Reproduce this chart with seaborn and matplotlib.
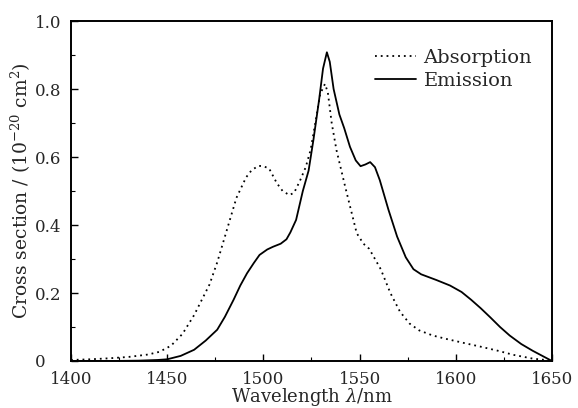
import numpy as np
import pandas as pd
import seaborn as sns
import matplotlib
matplotlib.use("Agg")
import matplotlib.pyplot as plt
from matplotlib.ticker import MultipleLocator, FuncFormatter

#Data
abs_wl = [1400, 1410, 1420, 1430, 1440, 1446, 1452, 1458, 1464, 1468, 1472, 1476,
          1481, 1486, 1491, 1494, 1497.5, 1500, 1503, 1507, 1510, 1513.5, 1516, 1519,
          1522, 1524.5, 1527, 1529.5, 1532, 1533.5, 1535.5, 1538, 1542.5, 1548.5, 1552,
          1555, 1558, 1561, 1566, 1571, 1576, 1581, 1588, 1595, 1605, 1613, 1622, 1630,
          1640, 1650]
abs_cs = [0.003, 0.005, 0.008, 0.012, 0.019, 0.027, 0.045, 0.080, 0.135, 0.180, 0.225, 0.290,
          0.385, 0.480, 0.540, 0.562, 0.574, 0.573, 0.566, 0.523, 0.500, 0.488, 0.495, 0.530,
          0.570, 0.620, 0.700, 0.785, 0.815, 0.790, 0.700, 0.620, 0.513, 0.376, 0.345,
          0.330, 0.300, 0.270, 0.200, 0.145, 0.110, 0.090, 0.075, 0.065, 0.052, 0.042, 0.030, 0.018,
          0.007, 0.001]

em_wl = [1400, 1420, 1435, 1445, 1450, 1457, 1464, 1470, 1476, 1480, 1484.5, 1488,
         1491.5, 1495, 1498, 1502, 1505, 1509, 1512, 1514, 1517, 1520.5, 1523.5, 1526,
         1529, 1531, 1533, 1534.5, 1536.5, 1539.5, 1542, 1545, 1548, 1550.5, 1553, 1555.5,
         1558, 1560.5, 1565, 1569.5, 1574, 1578, 1582, 1590, 1597, 1603, 1608, 1613,
         1618, 1623, 1628, 1634, 1640, 1645, 1650]
em_cs = [0.0, 0.0, 0.001, 0.003, 0.005, 0.015, 0.033, 0.060, 0.092, 0.130, 0.180, 0.222,
         0.258, 0.288, 0.312, 0.328, 0.336, 0.345, 0.358, 0.378, 0.415, 0.500, 0.560, 0.650,
         0.770, 0.860, 0.908, 0.880, 0.800, 0.725, 0.685, 0.630, 0.590, 0.573, 0.578, 0.585,
         0.570, 0.532, 0.445, 0.366, 0.305, 0.270, 0.255, 0.238, 0.222, 0.203, 0.180, 0.155,
         0.128, 0.100, 0.075, 0.050, 0.030, 0.015, 0.000]

#Long form table for seaborn
df = pd.concat([
    pd.DataFrame({"wl": abs_wl, "cs": abs_cs, "kind": "Absorption"}),
    pd.DataFrame({"wl": em_wl, "cs": em_cs, "kind": "Emission"}),
])

sns.set_style("ticks")
plt.rcParams['font.family'] = ['DejaVu Serif']
plt.rcParams['mathtext.fontset'] = 'dejavuserif'

fig = plt.figure(figsize=(5.78, 4.08), dpi=100)
ax = fig.add_axes([0.1228, 0.1152, 0.8322, 0.8333])

sns.lineplot(data=df, x="wl", y="cs", style="kind", color="black", linewidth=1.3,
             dashes={"Absorption": (1, 2.2), "Emission": ""}, sort=False,
             estimator=None, ax=ax)

ax.set_xlim(1400, 1650)
ax.set_ylim(0, 1.0)
ax.xaxis.set_major_locator(MultipleLocator(50))
ax.xaxis.set_minor_locator(MultipleLocator(25))
ax.yaxis.set_major_locator(MultipleLocator(0.2))
ax.yaxis.set_minor_locator(MultipleLocator(0.1))
ax.yaxis.set_major_formatter(FuncFormatter(lambda v, p: "0" if abs(v) < 1e-9 else "%.1f" % v))
ax.tick_params(which="both", direction="in", color="black", labelsize=12)
ax.tick_params(axis="x", pad=7)
ax.tick_params(axis="y", pad=26)
ax.tick_params(which="major", length=5, width=1)
ax.tick_params(which="minor", length=3, width=0.8)
for s in ax.spines.values():
    s.set_linewidth(1.4)
    s.set_color("black")

ax.set_xlabel(r"Wavelength $\lambda$/nm", fontsize=13, labelpad=-1)
ax.set_ylabel(r"Cross section / (10$^{-20}$ cm$^{2}$)", fontsize=13.5, labelpad=1)

leg = ax.legend(loc="upper right", frameon=False, fontsize=14, handlelength=2.1,
                handletextpad=0.4, labelspacing=0.25, bbox_to_anchor=(0.995, 0.97))

#y tick labels left aligned like the original
fig.canvas.draw()
plt.setp(ax.get_yticklabels(), ha="left")

fig.savefig("out.png", dpi=100)
